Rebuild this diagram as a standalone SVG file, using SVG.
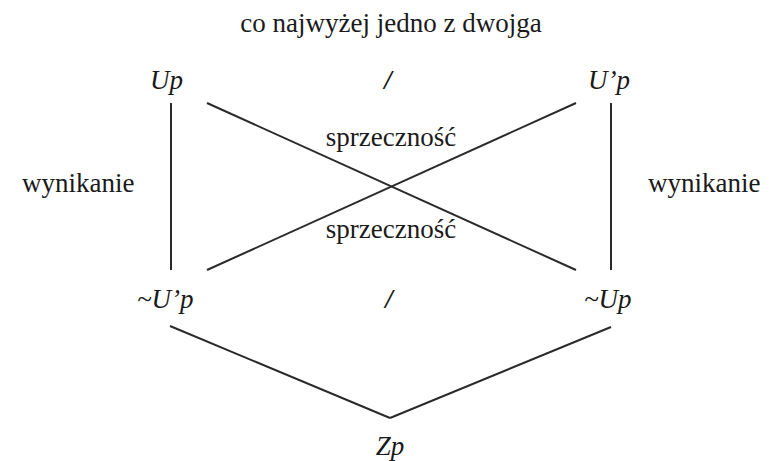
<svg xmlns="http://www.w3.org/2000/svg" width="778" height="461" viewBox="0 0 778 461">
<style>
text{font-family:"Liberation Serif","DejaVu Serif",serif;font-size:27px;fill:#1a1a1a}
.it{font-style:italic}
.c{text-anchor:middle}
.sl{font-weight:bold}
line{stroke:#2a2a2a;stroke-width:2;stroke-linecap:butt}
</style>
<rect width="778" height="461" fill="#fff"/>
<g id="connectors">
<line x1="171" y1="103" x2="171" y2="270"/>
<line x1="611" y1="103" x2="611" y2="270"/>
<line x1="207" y1="103" x2="576" y2="270"/>
<line x1="576" y1="103" x2="207" y2="270"/>
<line x1="170" y1="326" x2="390" y2="418"/>
<line x1="611" y1="327" x2="390" y2="418"/>
</g>
<g id="title"><text class="c" x="391" y="32">co najwyżej jedno z dwojga</text></g>
<g id="up"><text class="it" x="150" y="89">Up</text></g>
<g id="slash-top"><text class="it c sl" x="388" y="89">/</text></g>
<g id="uprime-p"><text class="it" x="588" y="89">U’p</text></g>
<g id="label-sprz-top"><text class="c" x="391" y="146">sprzeczność</text></g>
<g id="label-sprz-bottom"><text class="c" x="391" y="238">sprzeczność</text></g>
<g id="label-wyn-left"><text x="22" y="192">wynikanie</text></g>
<g id="label-wyn-right"><text x="648" y="192">wynikanie</text></g>
<g id="not-uprime-p"><text class="it" x="137" y="308">~U’p</text></g>
<g id="slash-bottom"><text class="it c sl" x="389" y="308">/</text></g>
<g id="not-up"><text class="it" x="584" y="308">~Up</text></g>
<g id="zp"><text class="it c" x="390" y="455">Zp</text></g>
</svg>
